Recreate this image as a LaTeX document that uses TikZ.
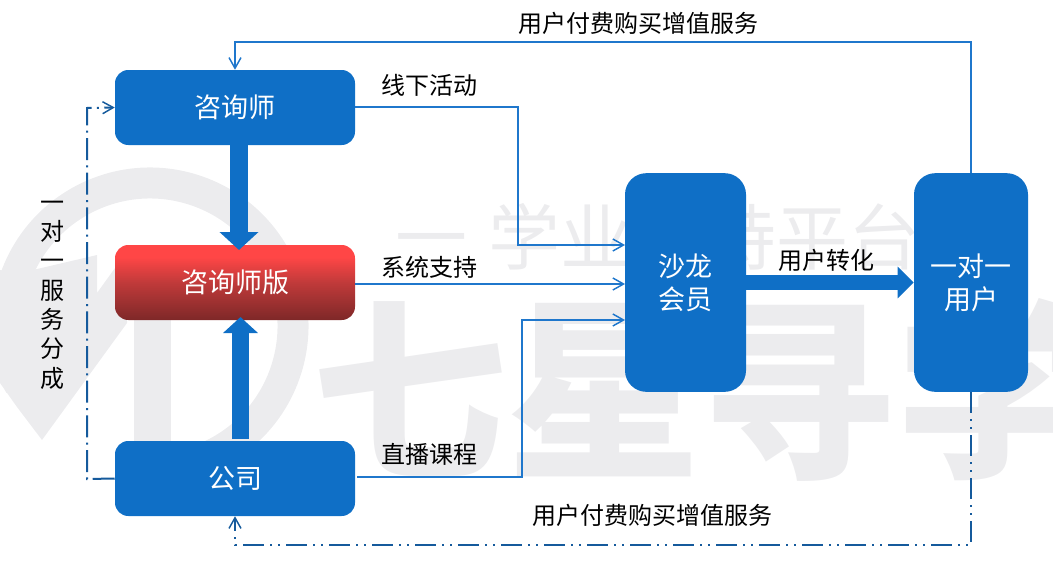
\documentclass[tikz,border=0pt]{standalone}
\usepackage{fontspec}
\usetikzlibrary{arrows.meta}
\setmainfont{Noto Sans CJK SC}
\definecolor{boxblue}{HTML}{0F6FC6}
\definecolor{linkblue}{HTML}{1F77CC}
\definecolor{dashblue}{HTML}{155A9C}
\definecolor{wm}{HTML}{ECECEE}
\definecolor{redtop}{HTML}{FF4646}
\definecolor{redmid}{HTML}{C03A3A}
\definecolor{redbot}{HTML}{7E2828}
\pgfdeclareverticalshading{redv}{100bp}{color(0bp)=(redbot); color(25bp)=(redbot); color(50bp)=(redmid); color(67bp)=(redtop); color(100bp)=(redtop)}
\tikzset{
  x=0.75pt,y=-0.75pt,
  box/.style={fill=boxblue,rounded corners=10pt,minimum width=180pt,minimum height=56.25pt,inner sep=0,text=white,font=\fontsize{20.25pt}{24pt}\selectfont,align=center},
  tall/.style={fill=boxblue,rounded corners=16pt,inner sep=0,text=white,font=\fontsize{20.25pt}{25pt}\selectfont,align=center},
  lab/.style={inner sep=0,font=\fontsize{18pt}{22pt}\selectfont,text=black},
  link/.style={draw=linkblue,line width=1.4pt,-{Straight Barb[length=8pt,width=9pt,line width=1.1pt]}},
  dlink/.style={draw=dashblue,line width=1.5pt,-{Straight Barb[length=8pt,width=9pt,line width=1.1pt]}},
  dashdot/.style={dash pattern=on 16.5pt off 4pt on 1.5pt off 4pt},
  dashdotdot/.style={dash pattern=on 16pt off 4.5pt on 1.5pt off 4.5pt on 1.5pt off 4.25pt},
  bigshaft/.style={draw=boxblue},
}
\begin{document}
\begin{tikzpicture}
\useasboundingbox (0,0) rectangle (1053,564);
% watermark
\begin{scope}
\clip (0,0) rectangle (1053,564);
\draw[wm,line width=23.25pt,line cap=butt] (150,326) ++(205:107.25pt) arc[start angle=205,end angle=-65,radius=107.25pt];
\fill[wm] (0,270) -- (20,273) -- (97,255) -- (97,293) -- (115,268) -- (127,290) -- (127,323) -- (42,440) -- (17,407) -- (0,383) -- cycle;
\fill[wm] (134,260) rectangle (171,441);
\node[text=wm,inner sep=0,anchor=west,font=\fontsize{146pt}{146pt}\selectfont\bfseries] (wmb) at (312,388) {七星寻学};
\node[text=wm,inner sep=0,anchor=west,font=\fontsize{54pt}{54pt}\selectfont] (wma) at (395,237) {一\hspace{16pt}学业扶持平台};
\end{scope}
% boxes
\node[box] (zxs) at (235,107.5) {咨询师};
\node[box,fill=none,shading=redv] (ban) at (235,282.5) {咨询师版};
\node[box] (gs) at (235,478.5) {公司};
\node[tall,minimum width=90.75pt,minimum height=164pt] (sl) at (685.5,282.5) {沙龙\\会员};
\node[tall,minimum width=85.5pt,minimum height=164pt] (dy) at (971,282.5) {一对一\\用户};
% big arrows
\coordinate (a1) at (239,250);
\coordinate (a2) at (240.5,317);
\coordinate (a2s) at (240.5,439);
\draw[bigshaft,line width=13.75pt,-{Triangle[length=13.5pt,width=28.5pt]}] (zxs.south -| a1) -- (a1);
\draw[bigshaft,line width=12.75pt,-{Triangle[length=12pt,width=25.5pt]}] (a2s) -- (a2);
\draw[bigshaft,line width=11.5pt,-{Triangle[length=12pt,width=23pt]}] (sl.east) -- (dy.west);
% thin links
\coordinate (c1) at (518,107);
\coordinate (c2) at (518,245);
\coordinate (t1) at (625,245);
\coordinate (t2) at (625,284);
\coordinate (t3) at (625,320);
\coordinate (c3) at (522,477);
\coordinate (c4) at (522,320);
\coordinate (s3) at (357,477);
\coordinate (u1) at (971,42);
\coordinate (u2) at (235,42);
\draw[link] (zxs.east |- c1) -- (c1) -- (c2) -- (t1);
\draw[link] (ban.east |- t2) -- (t2);
\draw[link] (s3) -- (c3) -- (c4) -- (t3);
\draw[link] (dy.north) -- (u1) -- (u2) -- (zxs.north);
\coordinate (d1) at (971,545);
\coordinate (d2) at (235,545);
\coordinate (l1) at (87,479);
\coordinate (l2) at (87,108);
\draw[dlink,dashdotdot] (dy.south) -- (d1) -- (d2) -- (gs.south);
\draw[dlink,dashdot] (gs.west) -- (l1) -- (l2) -- (zxs.west);
% labels
\node[lab] (n1) at (429,85) {线下活动};
\node[lab] (n2) at (429,267) {系统支持};
\node[lab] (n3) at (429,454) {直播课程};
\node[lab] (n4) at (826,260) {用户转化};
\node[lab] (n5) at (638,23) {用户付费购买增值服务};
\node[lab] (n6) at (652,515) {用户付费购买增值服务};
\node[lab,align=center,font=\fontsize{18pt}{22pt}\selectfont] (n7) at (52,295) {一\\对\\一\\服\\务\\分\\成};
\end{tikzpicture}
\end{document}
